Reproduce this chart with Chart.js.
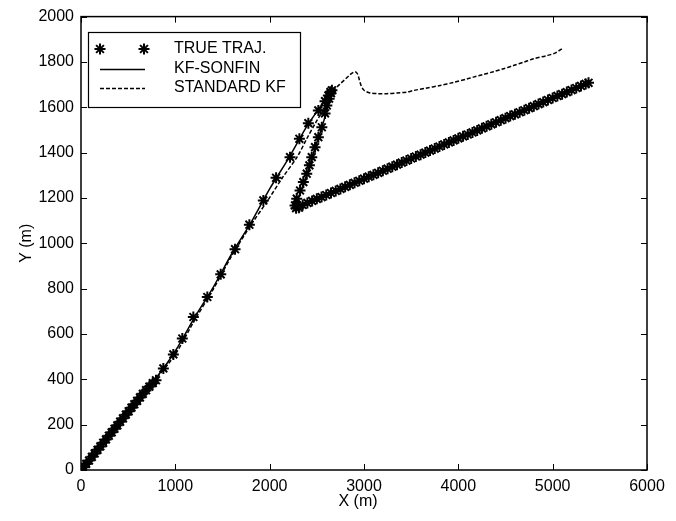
<!DOCTYPE html>
<html>
<head>
<meta charset="utf-8">
<script src="https://cdn.jsdelivr.net/npm/chart.js@4.4.0/dist/chart.umd.min.js"></script>
<style>
  html, body { margin: 0; padding: 0; background: #fff; }
  #wrap { width: 676px; height: 521px; }
</style>
</head>
<body>
<div id="wrap"><canvas id="traj"></canvas></div>
<script>
// true trajectory (stars)
const trueX = [0, 25, 55, 85, 115, 145, 175, 205, 235, 265, 295, 325, 355, 385, 415, 445, 475, 505, 535, 565,
  595, 625, 655, 690, 725, 760, 795, 873, 979, 1074, 1191, 1339, 1481, 1633, 1785, 1933, 2068, 2216, 2315,
  2410, 2516, 2587, 2622, 2645, 2660, 2650, 2630, 2606, 2587, 2553, 2516, 2481, 2446, 2421, 2393, 2357, 2322,
  2287, 2269, 2280, 2310,
  2350, 2400, 2450, 2500, 2550, 2600, 2650, 2700, 2750, 2800, 2850, 2900, 2950, 3000, 3050, 3100, 3150, 3200,
  3250, 3300, 3350, 3400, 3450, 3500, 3550, 3600, 3650, 3700, 3750, 3800, 3850, 3900, 3950, 4000, 4050, 4100,
  4150, 4200, 4250, 4300, 4350, 4400, 4450, 4500, 4550, 4600, 4650, 4700, 4750, 4800, 4850, 4900, 4950, 5000,
  5050, 5100, 5150, 5200, 5250, 5300, 5350, 5380];
const trueY = [0, 12, 27, 42, 58, 73, 89, 104, 120, 135, 151, 166, 182, 197, 213, 228, 244, 259, 275, 290,
  305, 320, 336, 352, 368, 383, 396, 448, 510, 580, 675, 763, 863, 974, 1082, 1189, 1289, 1380, 1461,
  1530, 1586, 1627, 1652, 1668, 1675, 1662, 1638, 1608, 1573, 1512, 1468, 1424, 1380, 1344, 1307, 1270, 1233,
  1197, 1167, 1155, 1157,
  1169, 1178, 1187, 1196, 1204, 1213, 1222, 1231, 1240, 1249, 1258, 1267, 1276, 1285, 1294, 1302, 1311, 1320,
  1329, 1338, 1347, 1356, 1365, 1374, 1383, 1391, 1400, 1409, 1418, 1427, 1436, 1445, 1454, 1463, 1472, 1480,
  1489, 1498, 1507, 1516, 1525, 1534, 1543, 1552, 1561, 1569, 1578, 1587, 1596, 1605, 1614, 1623, 1632, 1641,
  1650, 1658, 1667, 1676, 1685, 1694, 1703, 1708];

// KF-SONFIN estimate (solid)
const sonfinX = [0, 200, 400, 600, 800, 1000, 1200, 1400, 1600, 1800, 2000, 2200, 2400, 2550, 2640, 2658,
  2620, 2560, 2480, 2400, 2330, 2280, 2290, 2400, 2500, 3000, 3500, 4000, 4500, 5000, 5380];
const sonfinY = [0, 100, 205, 310, 408, 525, 670, 805, 955, 1090, 1240, 1375, 1520, 1610, 1665, 1668,
  1610, 1520, 1420, 1310, 1230, 1170, 1155, 1178, 1196, 1285, 1374, 1463, 1552, 1641, 1708];

// standard KF estimate (dashed)
const kfX = [0, 200, 400, 600, 800, 1000, 1200, 1400, 1600, 1800, 1980, 2135, 2290, 2393, 2485, 2570, 2610,
  2658, 2711, 2747, 2817, 2870, 2906, 2930, 2950, 2970, 3000, 3065, 3150, 3242, 3350, 3454, 3524, 3650, 3807,
  3950, 4090, 4160, 4260, 4372, 4480, 4584, 4700, 4797, 4938, 5030, 5097];
const kfY = [0, 98, 200, 305, 405, 510, 658, 796, 946, 1080, 1189, 1289, 1380, 1461, 1530, 1590, 1625,
  1659, 1688, 1703, 1730, 1750, 1757, 1748, 1722, 1695, 1675, 1663, 1660, 1660, 1663, 1667, 1674, 1684, 1696,
  1710, 1725, 1733, 1744, 1757, 1770, 1784, 1800, 1814, 1828, 1840, 1858];

const xTicks = [0, 1000, 2000, 3000, 4000, 5000, 6000];
const yTicks = [0, 200, 400, 600, 800, 1000, 1200, 1400, 1600, 1800, 2000];
const seriesNames = ['TRUE TRAJ.', 'KF-SONFIN', 'STANDARD KF'];

const toPts = (xs, ys) => xs.map((x, i) => ({ x: x, y: ys[i] }));
const FAMILY = '"Liberation Sans", Arial, sans-serif';
const FONT = '16px ' + FAMILY;

// box, inward ticks, axis titles and legend, matlab style
const frame = {
  id: 'frame',
  afterDraw(chart) {
    const c = chart.ctx;
    const a = chart.chartArea;
    const sx = chart.scales.x, sy = chart.scales.y;
    c.save();
    c.strokeStyle = '#000';
    c.lineWidth = 1.5;
    c.strokeRect(a.left, a.top, a.right - a.left, a.bottom - a.top);
    c.lineWidth = 1;
    c.beginPath();
    xTicks.forEach(v => {
      const p = Math.round(sx.getPixelForValue(v)) + 0.5;
      c.moveTo(p, a.bottom); c.lineTo(p, a.bottom - 6);
      c.moveTo(p, a.top); c.lineTo(p, a.top + 6);
    });
    yTicks.forEach(v => {
      const p = Math.round(sy.getPixelForValue(v)) + 0.5;
      c.moveTo(a.left, p); c.lineTo(a.left + 6, p);
      c.moveTo(a.right, p); c.lineTo(a.right - 6, p);
    });
    c.stroke();

    c.fillStyle = '#000';
    c.font = FONT;
    c.textAlign = 'center';
    c.textBaseline = 'middle';
    c.fillText('X (m)', (a.left + a.right) / 2 - 6, 502);
    c.save();
    c.translate(27, (a.top + a.bottom) / 2);
    c.rotate(-Math.PI / 2);
    c.fillText('Y (m)', 0, 0);
    c.restore();

    // legend
    c.fillStyle = '#fff';
    c.fillRect(88, 32, 212, 75);
    c.lineWidth = 1.2;
    c.strokeRect(88.5, 32.5, 212, 75);
    const rows = [49, 69, 88];
    c.textAlign = 'left';
    c.fillStyle = '#000';
    seriesNames.forEach((n, i) => c.fillText(n, 174, rows[i]));
    c.lineWidth = 2;
    [100, 144].forEach(px => {
      Chart.helpers.drawPoint(c, { pointStyle: 'star', radius: 5.5, borderWidth: 2 }, px, rows[0]);
    });
    c.lineWidth = 1.5;
    c.beginPath();
    c.moveTo(100, rows[1] + 0.5); c.lineTo(145, rows[1] + 0.5);
    c.stroke();
    c.setLineDash([4, 2]);
    c.beginPath();
    c.moveTo(100, rows[2] + 0.5); c.lineTo(145, rows[2] + 0.5);
    c.stroke();
    c.restore();
  }
};

new Chart(document.getElementById('traj'), {
  type: 'scatter',
  data: {
    datasets: [
      {
        label: seriesNames[0],
        data: toPts(trueX, trueY),
        showLine: false,
        pointStyle: 'star',
        pointRadius: 5.5,
        pointBorderWidth: 2,
        borderColor: '#000',
        backgroundColor: '#000'
      },
      {
        label: seriesNames[1],
        data: toPts(sonfinX, sonfinY),
        showLine: true,
        borderColor: '#000',
        borderWidth: 1.5,
        pointRadius: 0,
        tension: 0.3
      },
      {
        label: seriesNames[2],
        data: toPts(kfX, kfY),
        showLine: true,
        borderColor: '#000',
        borderWidth: 1.5,
        borderDash: [4, 2],
        pointRadius: 0,
        tension: 0.3
      }
    ]
  },
  options: {
    responsive: true,
    maintainAspectRatio: false,
    animation: false,
    layout: { padding: { top: 16, right: 29, left: 0, bottom: 0 } },
    plugins: { legend: { display: false }, tooltip: { enabled: false } },
    scales: {
      x: {
        type: 'linear',
        min: 0, max: 6000,
        afterBuildTicks: s => { s.ticks = xTicks.map(v => ({ value: v })); },
        afterFit: s => { s.height = 51; },
        grid: { display: false, drawTicks: false },
        border: { display: false },
        ticks: { color: '#000', font: { family: FAMILY, size: 16 }, padding: 7, maxRotation: 0,
          callback: v => String(v) }
      },
      y: {
        type: 'linear',
        min: 0, max: 2000,
        afterBuildTicks: s => { s.ticks = yTicks.map(v => ({ value: v })); },
        afterFit: s => { s.width = 81; },
        grid: { display: false, drawTicks: false },
        border: { display: false },
        ticks: { color: '#000', font: { family: FAMILY, size: 16 }, padding: 7,
          callback: v => String(v) }
      }
    }
  },
  plugins: [frame]
});
</script>
</body>
</html>
